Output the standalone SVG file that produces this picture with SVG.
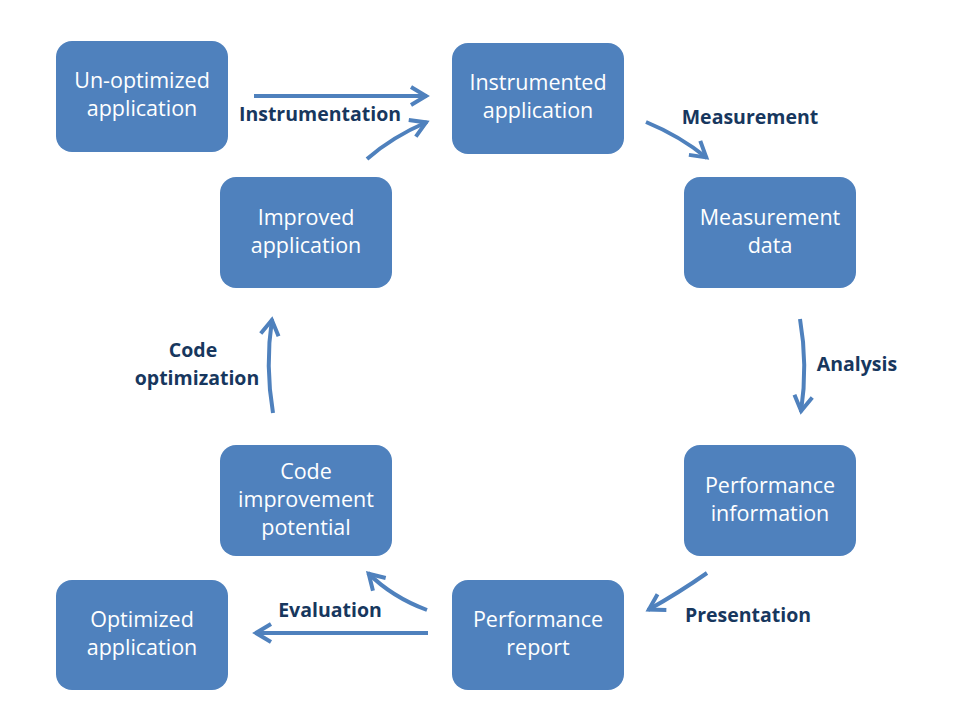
<svg xmlns="http://www.w3.org/2000/svg" width="960" height="720" viewBox="0 0 960 720">
<style>
.box{fill:#4F81BD;}
.bt{font-family:"Open Sans","Liberation Sans",sans-serif;font-size:21.5px;fill:#FFFFFF;text-anchor:middle;}
.lbl{font-family:"Open Sans","Liberation Sans",sans-serif;font-size:19.5px;font-weight:bold;fill:#17375E;text-anchor:middle;}
.arr{fill:none;stroke:#4F81BD;stroke-width:4;marker-end:url(#ah);}
</style>
<defs>
<marker id="ah" markerUnits="userSpaceOnUse" markerWidth="30" markerHeight="30" viewBox="-20 -15 30 30" refX="1" refY="0" orient="auto">
<path d="M-15,-9 L0,0 L-15,9" fill="none" stroke="#4F81BD" stroke-width="4" stroke-linejoin="miter"/>
</marker>
</defs>
<rect width="960" height="720" fill="#FFFFFF"/>
<g id="connectors">
<path class="arr" d="M254,96 L427,96"/>
<path class="arr" d="M367,159 Q392,137 427,122"/>
<path class="arr" d="M646,122 Q680,136 707,158"/>
<path class="arr" d="M800,319 Q808,365 801,412"/>
<path class="arr" d="M707,573 Q680,592 648,610"/>
<path class="arr" d="M428,633 L255,633"/>
<path class="arr" d="M427,610 Q392,597 368,573"/>
<path class="arr" d="M273,413 Q265,366 272,319"/>
<text class="lbl" x="320" y="121">Instrumentation</text>
<text class="lbl" x="750" y="124">Measurement</text>
<text class="lbl" x="857" y="371">Analysis</text>
<text class="lbl" x="748" y="622">Presentation</text>
<text class="lbl" x="330" y="617">Evaluation</text>
<text class="lbl" x="193" y="357">Code</text>
<text class="lbl" x="197" y="385">optimization</text>
</g>
<g id="unoptimized">
<rect class="box" x="56" y="41" width="172" height="111" rx="16"/>
<text class="bt" x="142" y="88">Un-optimized</text>
<text class="bt" x="142" y="116">application</text>
</g>
<g id="instrumented">
<rect class="box" x="452" y="43" width="172" height="111" rx="16"/>
<text class="bt" x="538" y="90">Instrumented</text>
<text class="bt" x="538" y="118">application</text>
</g>
<g id="measurement">
<rect class="box" x="684" y="177" width="172" height="111" rx="16"/>
<text class="bt" x="770" y="225">Measurement</text>
<text class="bt" x="770" y="253">data</text>
</g>
<g id="improved">
<rect class="box" x="220" y="177" width="172" height="111" rx="16"/>
<text class="bt" x="306" y="225">Improved</text>
<text class="bt" x="306" y="253">application</text>
</g>
<g id="perfinfo">
<rect class="box" x="684" y="445" width="172" height="111" rx="16"/>
<text class="bt" x="770" y="493">Performance</text>
<text class="bt" x="770" y="521">information</text>
</g>
<g id="potential">
<rect class="box" x="220" y="445" width="172" height="111" rx="16"/>
<text class="bt" x="306" y="479">Code</text>
<text class="bt" x="306" y="507">improvement</text>
<text class="bt" x="306" y="535">potential</text>
</g>
<g id="report">
<rect class="box" x="452" y="580" width="172" height="110" rx="16"/>
<text class="bt" x="538" y="627">Performance</text>
<text class="bt" x="538" y="655">report</text>
</g>
<g id="optimized">
<rect class="box" x="56" y="580" width="172" height="110" rx="16"/>
<text class="bt" x="142" y="627">Optimized</text>
<text class="bt" x="142" y="655">application</text>
</g>
</svg>
